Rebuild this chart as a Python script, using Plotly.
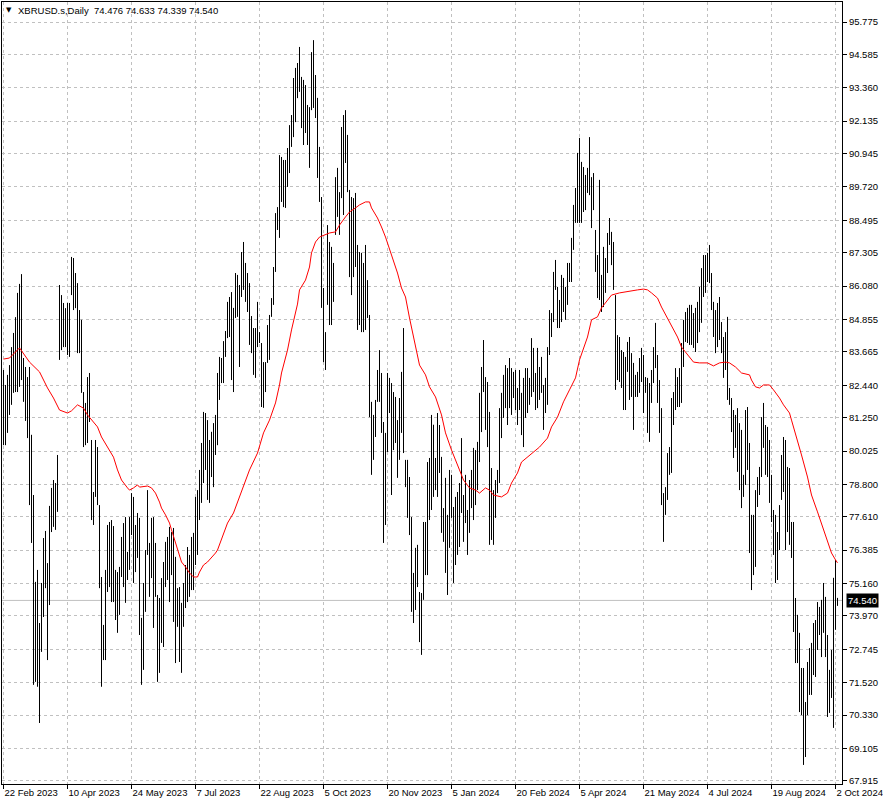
import pandas as pd
import plotly.graph_objects as go

symbol_title = "XBRUSD.s,Daily"
last_ohlc = [74.476, 74.633, 74.339, 74.540]
first_day, last_day = "2023-02-22", "2024-10-03"
holidays = ["2023-04-07", "2023-12-25", "2024-01-01", "2024-03-29"]

high = [
    83.00, 82.45, 82.82, 83.18, 83.84, 84.36, 84.94, 85.83, 86.16, 86.52,
    83.44, 83.11, 82.74, 83.11, 80.62, 78.41, 75.22, 75.66, 73.71, 75.18,
    76.83, 77.09, 75.91, 78.01, 78.67, 78.96, 78.85, 79.88, 86.12, 85.75,
    85.46, 85.27, 85.46, 85.46, 87.15, 87.11, 86.56, 86.19, 85.20, 84.84,
    82.19, 81.79, 82.74, 82.89, 80.43, 78.52, 80.43, 80.17, 78.04, 75.40,
    73.64, 75.66, 77.31, 77.42, 77.49, 77.27, 75.66, 75.58, 75.77, 76.87,
    77.38, 77.60, 76.32, 77.60, 78.48, 78.34, 77.31, 77.75, 77.57, 73.90,
    75.18, 76.39, 78.59, 76.65, 77.57, 77.60, 76.65, 74.74, 74.63, 75.36,
    75.95, 76.69, 76.87, 77.24, 77.05, 77.20, 76.14, 74.99, 75.03, 74.45,
    75.18, 75.84, 76.50, 76.21, 76.87, 77.02, 78.34, 78.59, 79.33, 80.32,
    81.46, 81.42, 81.16, 80.43, 80.73, 81.05, 81.35, 82.89, 83.48, 83.44,
    84.06, 84.43, 85.50, 85.68, 85.86, 85.28, 86.56, 86.49, 86.12, 87.33,
    87.70, 86.93, 86.56, 86.19, 84.98, 84.54, 84.54, 85.50, 84.39, 83.99,
    83.29, 83.29, 84.65, 85.02, 85.64, 86.78, 88.76, 88.98, 90.89, 90.82,
    90.71, 90.71, 91.15, 91.99, 92.36, 93.72, 94.09, 94.27, 94.86, 93.76,
    93.65, 93.46, 92.73, 92.65, 94.67, 95.11, 93.83, 92.99, 91.19, 89.35,
    86.01, 84.39, 88.32, 87.70, 87.52, 86.93, 90.08, 90.42, 89.53, 91.92,
    92.36, 92.54, 91.63, 89.61, 89.35, 89.31, 89.50, 87.59, 87.33, 87.30,
    86.93, 87.59, 86.30, 85.02, 81.83, 81.35, 81.90, 83.00, 83.73, 82.89,
    81.09, 80.69, 82.89, 82.71, 82.52, 82.19, 82.01, 81.16, 81.97, 82.93,
    84.54, 79.70, 79.70, 79.07, 77.60, 75.55, 76.47, 76.58, 74.85, 74.81,
    77.42, 77.42, 79.62, 79.77, 81.35, 80.99, 79.77, 81.42, 80.98, 79.81,
    77.93, 79.04, 77.68, 79.33, 79.15, 77.97, 78.34, 78.52, 78.85, 80.50,
    78.41, 79.15, 77.86, 78.96, 79.33, 80.14, 80.06, 80.36, 82.16, 83.11,
    84.10, 82.74, 82.56, 81.46, 79.40, 78.59, 78.96, 79.33, 81.60, 82.16,
    82.82, 83.18, 83.07, 83.44, 83.07, 82.93, 83.00, 82.34, 83.00, 82.16,
    82.71, 83.07, 83.07, 82.71, 84.17, 83.81, 82.89, 83.81, 83.11, 83.48,
    82.45, 82.71, 83.84, 85.20, 85.09, 86.60, 87.04, 86.05, 85.57, 86.49,
    86.38, 86.05, 86.93, 86.93, 87.85, 89.06, 89.68, 90.97, 91.52, 90.64,
    90.45, 90.16, 90.42, 91.55, 90.08, 90.23, 88.14, 87.22, 89.98, 86.49,
    87.52, 87.11, 88.03, 88.58, 88.07, 87.70, 85.75, 84.28, 84.21, 83.73,
    83.66, 83.48, 84.03, 84.21, 83.62, 83.26, 82.82, 82.93, 83.44, 83.81,
    83.55, 82.74, 82.71, 82.52, 83.00, 83.84, 84.73, 83.55, 82.63, 81.60,
    78.48, 78.70, 79.95, 80.17, 81.97, 82.19, 83.07, 82.74, 83.07, 83.99,
    84.84, 85.13, 85.28, 85.39, 85.39, 85.09, 85.28, 85.50, 86.05, 86.74,
    87.22, 87.22, 87.30, 87.59, 86.56, 85.50, 85.20, 85.46, 85.68, 84.76,
    84.21, 84.39, 84.95, 82.34, 81.97, 81.53, 81.35, 81.60, 81.05, 80.80,
    79.15, 81.53, 81.64, 80.32, 77.68, 77.68, 78.59, 79.07, 79.44, 81.27,
    81.79, 80.98, 80.91, 80.43, 79.15, 77.86, 77.68, 77.05, 78.04, 79.88,
    80.54, 80.43, 79.44, 79.40, 77.42, 77.42, 74.63, 74.01, 73.35, 72.06,
    72.06, 70.81, 72.28, 72.79, 72.98, 73.71, 73.82, 74.48, 74.30, 74.56,
    75.18, 74.67, 73.27, 71.99, 72.72, 75.37, 76.03, 74.633,
]

low = [
    80.24, 80.24, 80.69, 81.35, 81.72, 82.16, 82.19, 82.19, 82.38, 82.63,
    81.83, 81.13, 80.50, 78.04, 76.65, 71.44, 71.55, 71.37, 70.04, 72.65,
    73.93, 74.99, 72.35, 74.37, 77.05, 77.24, 77.13, 77.79, 83.37, 83.73,
    83.84, 83.84, 83.55, 83.48, 85.75, 85.20, 85.27, 83.62, 83.62, 82.16,
    80.17, 80.24, 80.32, 81.09, 77.49, 77.31, 78.34, 78.04, 74.99, 71.37,
    72.35, 72.35, 74.85, 75.03, 74.48, 74.48, 73.82, 73.35, 74.01, 75.40,
    75.03, 74.45, 75.29, 75.66, 76.94, 75.18, 75.58, 76.10, 73.27, 71.44,
    71.99, 74.12, 76.21, 74.67, 75.36, 73.53, 74.67, 71.55, 71.88, 72.98,
    72.83, 75.03, 75.29, 74.48, 75.47, 73.75, 72.24, 73.57, 72.28, 71.88,
    73.57, 74.26, 74.48, 74.67, 74.92, 74.92, 75.84, 76.21, 77.49, 78.12,
    78.85, 79.33, 78.23, 78.12, 79.07, 78.70, 79.88, 80.24, 81.90, 82.52,
    82.52, 83.48, 84.17, 84.21, 82.63, 82.19, 84.91, 84.95, 83.11, 85.68,
    85.94, 85.50, 85.13, 83.92, 83.62, 82.82, 82.71, 83.84, 83.99, 81.64,
    81.61, 82.19, 83.26, 83.37, 84.95, 85.39, 86.60, 88.14, 87.85, 89.17,
    88.98, 88.95, 89.72, 90.23, 91.19, 91.55, 92.10, 92.98, 93.21, 91.88,
    91.26, 91.70, 91.26, 90.42, 92.54, 92.62, 92.25, 90.05, 89.17, 85.28,
    83.29, 83.00, 85.39, 84.65, 84.65, 85.50, 87.96, 88.62, 87.96, 89.31,
    88.69, 90.60, 89.53, 86.41, 85.75, 86.41, 86.78, 84.47, 84.65, 84.39,
    84.39, 84.47, 84.91, 81.27, 79.15, 79.70, 80.54, 81.83, 81.83, 80.69,
    76.65, 77.31, 79.99, 81.42, 78.41, 80.06, 80.32, 79.04, 79.70, 80.69,
    79.95, 78.70, 77.57, 76.94, 74.12, 73.71, 74.19, 75.03, 73.01, 72.54,
    74.56, 75.47, 75.47, 77.49, 77.86, 78.34, 78.59, 78.34, 79.22, 77.02,
    76.69, 75.55, 74.74, 76.47, 77.57, 75.18, 75.84, 76.21, 76.50, 77.75,
    76.69, 77.38, 76.21, 77.02, 77.93, 77.49, 78.04, 78.59, 79.62, 80.72,
    82.19, 80.80, 80.17, 76.58, 76.76, 76.58, 77.57, 78.48, 78.85, 80.50,
    81.24, 81.60, 80.98, 81.60, 81.35, 81.97, 81.53, 80.98, 81.53, 80.61,
    80.17, 81.24, 81.42, 81.72, 82.01, 82.19, 81.53, 81.60, 81.90, 82.16,
    80.80, 81.42, 81.72, 83.55, 84.21, 84.76, 85.94, 84.54, 84.54, 84.76,
    85.13, 84.84, 85.39, 86.23, 86.23, 87.41, 88.40, 88.40, 88.40, 88.40,
    88.80, 88.87, 89.50, 89.42, 88.21, 88.87, 86.60, 85.64, 85.57, 85.13,
    85.31, 85.83, 86.56, 87.59, 86.85, 85.94, 82.27, 82.63, 82.56, 82.34,
    81.53, 81.53, 82.93, 81.90, 82.01, 80.80, 82.01, 82.01, 82.16, 82.56,
    81.42, 82.16, 80.69, 80.36, 81.79, 82.52, 83.07, 81.79, 80.69, 78.04,
    76.69, 77.68, 78.23, 79.15, 79.22, 80.98, 81.53, 81.64, 81.64, 81.79,
    83.11, 84.03, 83.99, 83.92, 83.92, 83.81, 83.66, 83.99, 84.39, 84.73,
    85.68, 85.83, 86.23, 86.19, 85.20, 84.21, 83.62, 83.84, 84.10, 83.62,
    82.71, 83.00, 81.90, 81.72, 80.72, 79.77, 80.14, 79.26, 78.59, 77.93,
    78.34, 78.78, 79.33, 76.28, 74.92, 75.47, 75.77, 77.97, 78.41, 79.07,
    80.14, 79.15, 79.07, 78.12, 77.42, 76.21, 75.18, 75.29, 76.39, 78.23,
    78.52, 76.39, 77.05, 76.58, 76.10, 73.38, 72.24, 72.24, 70.44, 70.33,
    68.50, 68.79, 70.33, 71.07, 71.07, 71.80, 71.73, 72.72, 73.27, 72.46,
    73.35, 72.46, 70.26, 70.41, 70.96, 69.86, 73.46, 74.339,
]

# moving average (bar number -> value)
ma_bar = [0, 3, 8, 13, 18, 22, 25, 27, 28, 32, 34, 37, 40, 42, 45, 47, 49, 52, 54, 55,
          57, 59, 62, 63, 65, 67, 68, 72, 74, 76, 78, 79, 81, 83, 84, 86, 88, 89, 91, 93,
          95, 97, 98, 100, 102, 104, 106, 107, 108, 110, 112, 115, 118, 120, 123, 127, 130, 133, 136, 138,
          139, 142, 144, 147, 148, 151, 153, 154, 156, 158, 161, 163, 166, 168, 171, 173, 176, 178, 181, 183,
          184, 187, 189, 191, 194, 197, 199, 201, 203, 206, 208, 211, 213, 216, 217, 219, 221, 224, 228, 230,
          233, 236, 238, 241, 243, 245, 249, 252, 254, 257, 259, 262, 265, 268, 272, 274, 277, 280, 283, 286,
          288, 292, 294, 297, 299, 302, 304, 308, 313, 317, 320, 322, 324, 327, 329, 332, 334, 337, 339, 342,
          345, 348, 352, 355, 358, 361, 363, 366, 369, 373, 374, 376, 378, 380, 383, 385, 388, 390, 393, 394,
          397, 399, 402, 404, 407, 409, 412, 414, 416, 417]
ma_value = [83.40, 83.44, 83.81, 83.29, 82.93, 82.34, 81.97, 81.64, 81.53, 81.42, 81.50, 81.72, 81.60, 81.35, 81.09, 80.91, 80.54, 80.17, 79.95, 79.80,
            79.33, 78.96, 78.67, 78.59, 78.67, 78.78, 78.70, 78.74, 78.67, 78.48, 78.15, 77.93, 77.68, 77.38, 77.13, 76.65, 76.21, 75.95, 75.77, 75.55,
            75.40, 75.40, 75.58, 75.84, 75.95, 76.10, 76.28, 76.39, 76.58, 77.02, 77.38, 77.75, 78.34, 78.70, 79.33, 79.95, 80.69, 81.16, 81.79, 82.45,
            82.89, 83.73, 84.47, 85.42, 85.94, 86.30, 86.78, 87.30, 87.70, 87.88, 87.96, 88.03, 88.07, 88.32, 88.62, 88.80, 88.95, 89.06, 89.17, 89.17,
            88.95, 88.58, 88.25, 87.88, 87.22, 86.56, 86.01, 85.68, 84.91, 83.84, 83.18, 82.82, 82.38, 82.01, 81.79, 81.35, 80.69, 80.06, 79.33, 78.96,
            78.67, 78.59, 78.48, 78.67, 78.59, 78.41, 78.34, 78.48, 78.85, 79.22, 79.62, 79.81, 79.99, 80.17, 80.50, 80.91, 81.27, 81.83, 82.27, 82.71,
            83.37, 84.21, 84.84, 84.95, 85.28, 85.57, 85.75, 85.83, 85.90, 85.94, 85.97, 85.94, 85.83, 85.64, 85.31, 84.91, 84.65, 84.21, 83.84, 83.55,
            83.29, 83.26, 83.26, 83.15, 83.26, 83.29, 83.26, 83.11, 82.89, 82.82, 82.63, 82.38, 82.34, 82.45, 82.45, 82.27, 81.97, 81.72, 81.42, 81.16,
            80.43, 79.88, 79.07, 78.41, 77.79, 77.38, 76.76, 76.28, 76.03, 75.92]

x_tick_dates = ["2023-02-22", "2023-04-10", "2023-05-24", "2023-07-07", "2023-08-22",
                "2023-10-05", "2023-11-20", "2024-01-05", "2024-02-20", "2024-04-05",
                "2024-05-21", "2024-07-04", "2024-08-19", "2024-10-02"]
x_tick_text = ["22 Feb 2023", "10 Apr 2023", "24 May 2023", "7 Jul 2023", "22 Aug 2023",
               "5 Oct 2023", "20 Nov 2023", "5 Jan 2024", "20 Feb 2024", "5 Apr 2024",
               "21 May 2024", "4 Jul 2024", "19 Aug 2024", "2 Oct 2024"]
y_tick_values = [95.775, 94.585, 93.360, 92.135, 90.945, 89.720, 88.495, 87.305, 86.080, 84.855,
                 83.665, 82.440, 81.250, 80.025, 78.800, 77.610, 76.385, 75.160, 73.970, 72.745,
                 71.520, 70.330, 69.105, 67.915]
y_tick_text = [f"{v:.3f}" for v in y_tick_values]

dates = pd.bdate_range(first_day, last_day).difference(pd.DatetimeIndex(holidays))
tick_pos = []
for d in x_tick_dates:
    ts = pd.Timestamp(d)
    tick_pos.append(int(dates.get_loc(ts)) if ts in dates else 0)

seg_x, seg_y = [], []
for i, (h, l) in enumerate(zip(high, low)):
    seg_x += [i, i, None]
    seg_y += [l, h, None]

FONT = "Liberation Sans, Arial, sans-serif"

fig = go.Figure()
fig.add_trace(go.Scatter(x=seg_x, y=seg_y, mode="lines",
                         line=dict(color="black", width=1), hoverinfo="skip"))
fig.add_trace(go.Scatter(x=ma_bar, y=ma_value, mode="lines",
                         line=dict(color="#ff0000", width=1), hoverinfo="skip"))

last_close = last_ohlc[3]
fig.add_shape(type="line", xref="paper", x0=0, x1=1, yref="y", y0=last_close, y1=last_close,
              line=dict(color="#c0c0c0", width=1), layer="below")

fig.add_annotation(xref="paper", x=1, xanchor="left", xshift=4, yref="y", y=last_close,
                   text=f"{last_close:.3f}", showarrow=False, bgcolor="black",
                   font=dict(family=FONT, size=9.5, color="white"), borderpad=1)

fig.add_annotation(xref="paper", x=0.0083, xanchor="center", yref="paper", y=0.9895,
                   yanchor="middle", text="\u25bc", showarrow=False,
                   font=dict(family="DejaVu Sans", size=7, color="black"))
header = symbol_title + "\u00a0\u00a0" + " ".join(f"{v:.3f}" for v in last_ohlc)
fig.add_annotation(xref="paper", x=0.0165, xanchor="left", yref="paper", y=0.9891,
                   yanchor="middle", text=header, showarrow=False,
                   font=dict(family=FONT, size=9.5, color="black"))

fig.update_layout(
    width=883, height=805,
    margin=dict(l=2, r=41, t=2, b=21),
    paper_bgcolor="white", plot_bgcolor="white",
    showlegend=False,
    font=dict(family=FONT, size=9.5, color="black"),
    xaxis=dict(range=[-0.75, 419.25], tickmode="array", tickvals=tick_pos, ticktext=x_tick_text,
               ticks="outside", ticklen=4, tickcolor="black", tickwidth=1,
               ticklabelposition="outside right",
               showgrid=True, gridcolor="#c0c0c0", griddash="3px,3px", gridwidth=1,
               showline=True, linecolor="black", linewidth=1, mirror=True,
               zeroline=False, automargin=False, fixedrange=True),
    yaxis=dict(side="right", range=[67.80, 96.51], tickmode="array",
               tickvals=y_tick_values, ticktext=y_tick_text,
               ticks="outside", ticklen=4, tickcolor="black", tickwidth=1,
               showgrid=True, gridcolor="#c0c0c0", griddash="3px,3px", gridwidth=1,
               showline=True, linecolor="black", linewidth=1, mirror=True,
               zeroline=False, automargin=False, fixedrange=True),
)

fig.write_html("out.html",
               config={"displayModeBar": False, "staticPlot": True},
               post_script="document.body.style.margin='0';document.body.style.overflow='hidden';")
